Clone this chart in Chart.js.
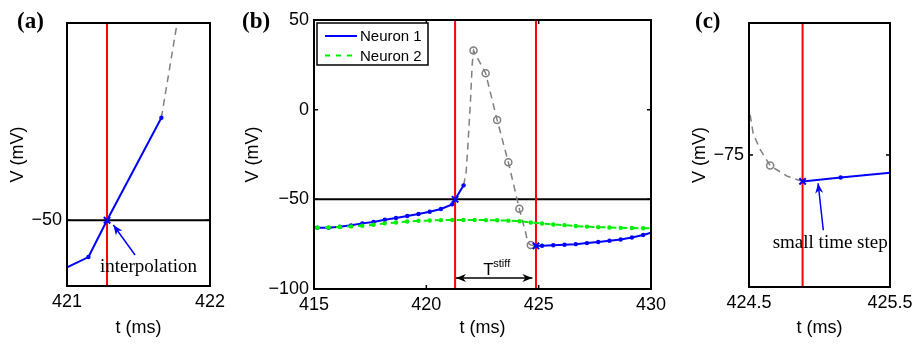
<!DOCTYPE html>
<html>
<head>
<meta charset="utf-8">
<script src="https://cdn.jsdelivr.net/npm/chart.js@4.4.1/dist/chart.umd.min.js"></script>
<style>
  body { margin: 0; background: #fff; }
  #wrap { position: relative; width: 921px; height: 345px; overflow: hidden; }
  #wrap canvas { position: absolute; top: 0; }
</style>
</head>
<body>
<div id="wrap">
  <canvas id="chartA" width="235" height="345" style="left:0px"></canvas>
  <canvas id="chartB" width="450" height="345" style="left:230px"></canvas>
  <canvas id="chartC" width="241" height="345" style="left:680px"></canvas>
</div>
<script>
// membrane potential V (mV) vs time t (ms)
const neuron1PreT = [415.0, 415.15, 415.65, 416.15, 416.65, 417.15, 417.65, 418.15, 418.65, 419.15, 419.65, 420.15, 420.65, 421.15, 421.28, 421.66];
const neuron1PreV = [-65.7, -65.8, -65.9, -65.3, -64.5, -63.4, -62.6, -61.4, -60.4, -59.3, -58.2, -56.9, -55.4, -52.8, -50.0, -42.2];
const neuron1PostT = [424.88, 425.15, 425.65, 426.15, 426.65, 427.15, 427.65, 428.15, 428.65, 429.15, 429.65, 430.0];
const neuron1PostV = [-76.0, -75.85, -75.6, -75.3, -75.0, -74.4, -73.8, -73.1, -72.4, -71.3, -69.9, -68.6];

const neuron2T = [415.0, 415.15, 415.65, 416.15, 416.65, 417.15, 417.65, 418.15, 418.65, 419.15, 419.65, 420.15, 420.65, 421.15, 421.65, 422.15,
                  422.65, 423.15, 423.65, 424.15, 424.65, 425.15, 425.65, 426.15, 426.65, 427.15, 427.65, 428.15, 428.65, 429.15, 429.65, 430.0];
const neuron2V = [-65.7, -65.8, -65.7, -65.4, -65.1, -64.7, -64.2, -63.4, -62.9, -62.4, -62.0, -61.8, -61.6, -61.5, -61.5, -61.5,
                  -61.6, -61.7, -61.9, -62.2, -62.9, -63.5, -64.0, -64.4, -64.9, -65.2, -65.5, -65.7, -65.9, -66.0, -66.1, -66.1];

// stiff (spiking) trajectory, dashed grey, and its sample points (circles)
const stiffT = [421.66, 421.77, 421.84, 421.97, 422.04, 422.1, 422.64, 423.15, 423.65, 424.14, 424.3, 424.42, 424.5, 424.53, 424.58, 424.65, 424.77, 424.88];
const stiffV = [-42.2, -35.0, -22.0, 6.0, 25.0, 33.0, 20.3, -5.7, -29.3, -55.3, -63.0, -68.5, -73.2, -74.2, -74.8, -75.4, -75.8, -76.0];
const stiffSampleT = [422.1, 422.64, 423.15, 423.65, 424.14, 424.65];
const stiffSampleV = [33.0, 20.3, -5.7, -29.3, -55.3, -75.4];

// threshold crossing / end of stiff period
const crossT = [421.28, 424.88];
const crossV = [-50.0, -76.0];
const redLineT = [421.28, 424.88];
const threshold = -50;

// axis ranges and ticks per panel
const aRangeT = [421, 422], aRangeV = [-55, -35];
const bRangeT = [415, 430], bRangeV = [-100, 50];
const cRangeT = [424.5, 425.5], cRangeV = [-80, -70];
const aTicksT = [421, 422], aTicksV = [-50];
const bTicksT = [415, 420, 425, 430], bTicksV = [-100, -50, 0, 50];
const cTicksT = [424.5, 425.5], cTicksV = [-75];

Chart.defaults.font.family = "'Liberation Sans', Arial, sans-serif";
Chart.defaults.color = '#000';
Chart.defaults.animation = false;

const BLUE = '#0000ff', GREEN = '#00ee00', GRAY = '#808080', RED = '#ff0000';
const SERIF = "'Liberation Serif', 'Times New Roman', serif";

const pts = (t, v) => t.map((x, i) => ({ x, y: v[i] }));
const fmtTick = v => String(v).replace('-', '\u2212');

function dotRadius(r) {
  return c => {
    const x = c.raw ? c.raw.x : null;
    return (x <= bRangeT[0] || x >= bRangeT[1] || crossT.includes(x)) ? 0 : r;
  };
}

function buildDatasets() {
  // first dataset is drawn on top
  return [
    { label: 'crossings', data: pts(crossT, crossV), showLine: false, pointStyle: 'crossRot',
      pointRadius: 4.5, borderColor: BLUE, pointBorderColor: BLUE, pointBorderWidth: 2 },
    { label: 'Neuron 2', data: pts(neuron2T, neuron2V), borderColor: GREEN, borderWidth: 2, borderDash: [6, 5],
      pointRadius: dotRadius(2.2), pointBackgroundColor: GREEN, pointBorderWidth: 0 },
    { label: 'Neuron 1', data: pts(neuron1PreT, neuron1PreV), borderColor: BLUE, borderWidth: 2,
      pointRadius: dotRadius(2.2), pointBackgroundColor: BLUE, pointBorderWidth: 0 },
    { label: 'Neuron 1 after', data: pts(neuron1PostT, neuron1PostV), borderColor: BLUE, borderWidth: 2,
      pointRadius: dotRadius(2.2), pointBackgroundColor: BLUE, pointBorderWidth: 0 },
    { label: 'stiff samples', data: pts(stiffSampleT, stiffSampleV), showLine: false, pointStyle: 'circle',
      pointRadius: 3.5, borderColor: GRAY, pointBorderColor: GRAY, pointBackgroundColor: 'rgba(0,0,0,0)', pointBorderWidth: 1.5 },
    { label: 'stiff', data: pts(stiffT, stiffV), borderColor: GRAY, borderWidth: 1.5, borderDash: [7, 5], pointRadius: 0 }
  ];
}

function drawArrow(ctx, x0, y0, x1, y1, color, both) {
  const L = 10, W = 4;
  ctx.strokeStyle = color;
  ctx.fillStyle = color;
  ctx.lineWidth = 1.5;
  ctx.beginPath(); ctx.moveTo(x0, y0); ctx.lineTo(x1, y1); ctx.stroke();
  const head = (x, y, a) => {
    const c = Math.cos(a), s = Math.sin(a);
    ctx.beginPath();
    ctx.moveTo(x, y);
    ctx.lineTo(x - L * c + W * s, y - L * s - W * c);
    ctx.lineTo(x - L * 0.7 * c, y - L * 0.7 * s);
    ctx.lineTo(x - L * c - W * s, y - L * s + W * c);
    ctx.closePath();
    ctx.fill();
  };
  const ang = Math.atan2(y1 - y0, x1 - x0);
  head(x1, y1, ang);
  if (both) head(x0, y0, ang + Math.PI);
}

const panelDecor = {
  id: 'panelDecor',
  beforeDatasetsDraw(chart) {
    const { ctx, chartArea: a, scales: { x, y } } = chart;
    ctx.save();
    ctx.beginPath(); ctx.rect(a.left, a.top, a.width, a.height); ctx.clip();
    ctx.lineWidth = 2;
    ctx.strokeStyle = '#000';
    const yt = y.getPixelForValue(threshold);
    ctx.beginPath(); ctx.moveTo(a.left, yt); ctx.lineTo(a.right, yt); ctx.stroke();
    ctx.strokeStyle = RED;
    redLineT.forEach(t => {
      const px = x.getPixelForValue(t);
      ctx.beginPath(); ctx.moveTo(px, a.top); ctx.lineTo(px, a.bottom); ctx.stroke();
    });
    ctx.restore();
  },
  afterDatasetsDraw(chart, args, o) {
    const { ctx, chartArea: a, scales: { x, y } } = chart;
    ctx.save();
    // box and inward ticks
    ctx.strokeStyle = '#000';
    ctx.lineWidth = 2;
    ctx.strokeRect(a.left, a.top, a.width, a.height);
    ctx.lineWidth = 1.5;
    o.ticksT.forEach(t => {
      const px = x.getPixelForValue(t);
      ctx.beginPath();
      ctx.moveTo(px, a.bottom); ctx.lineTo(px, a.bottom - 4);
      ctx.moveTo(px, a.top); ctx.lineTo(px, a.top + 4);
      ctx.stroke();
    });
    o.ticksV.forEach(v => {
      const py = y.getPixelForValue(v);
      ctx.beginPath();
      ctx.moveTo(a.left, py); ctx.lineTo(a.left + 4, py);
      ctx.moveTo(a.right, py); ctx.lineTo(a.right - 4, py);
      ctx.stroke();
    });

    if (o.legend) {
      const lx = a.left + 3, ly = a.top + 3;
      ctx.fillStyle = '#fff';
      ctx.fillRect(lx, ly, 111, 42);
      ctx.lineWidth = 1.5;
      ctx.strokeStyle = '#000';
      ctx.strokeRect(lx, ly, 111, 42);
      ctx.font = "15px 'Liberation Sans', Arial, sans-serif";
      ctx.textBaseline = 'middle';
      ctx.textAlign = 'left';
      [['Neuron 1', BLUE, []], ['Neuron 2', GREEN, [5, 6]]].forEach(([txt, col, dash], i) => {
        const ry = ly + 13 + i * 19.5;
        ctx.strokeStyle = col;
        ctx.lineWidth = 2;
        ctx.setLineDash(dash);
        ctx.beginPath(); ctx.moveTo(lx + 8, ry); ctx.lineTo(lx + 40, ry); ctx.stroke();
        ctx.setLineDash([]);
        ctx.fillStyle = '#000';
        ctx.fillText(txt, lx + 43, ry + 1);
      });
    }

    (o.arrows || []).forEach(ar => {
      drawArrow(ctx, x.getPixelForValue(ar.from[0]), y.getPixelForValue(ar.from[1]),
        x.getPixelForValue(ar.to[0]), y.getPixelForValue(ar.to[1]), ar.color, ar.both);
    });
    (o.notes || []).forEach(n => {
      ctx.font = n.font;
      ctx.fillStyle = '#000';
      ctx.textAlign = 'left';
      ctx.textBaseline = 'alphabetic';
      ctx.fillText(n.text, x.getPixelForValue(n.at[0]), y.getPixelForValue(n.at[1]));
    });
    ctx.restore();
  },
  afterDraw(chart, args, o) {
    const { ctx } = chart;
    ctx.save();
    ctx.font = 'bold 23px ' + SERIF;
    ctx.fillStyle = '#000';
    ctx.textAlign = 'left';
    ctx.textBaseline = 'alphabetic';
    ctx.fillText(o.label, o.labelX, o.labelY);
    ctx.restore();
  }
};

function axes(rangeT, rangeV, ticksT, ticksV, yWidth, xHeight, yTitlePad) {
  const tickFont = { size: 18 };
  return {
    x: {
      type: 'linear', min: rangeT[0], max: rangeT[1],
      afterBuildTicks: s => { s.ticks = ticksT.map(value => ({ value })); },
      afterFit: s => { s.height = xHeight; },
      grid: { display: false, drawTicks: false }, border: { display: false },
      ticks: { padding: 5, font: tickFont, color: '#000', callback: fmtTick, autoSkip: false, maxRotation: 0 },
      title: { display: true, text: 't (ms)', font: tickFont, color: '#000', padding: { top: 0, bottom: 6 } }
    },
    y: {
      type: 'linear', min: rangeV[0], max: rangeV[1],
      afterBuildTicks: s => { s.ticks = ticksV.map(value => ({ value })); },
      afterFit: s => { s.width = yWidth; },
      grid: { display: false, drawTicks: false }, border: { display: false },
      ticks: { padding: 5, font: tickFont, color: '#000', callback: fmtTick, autoSkip: false },
      title: { display: true, text: 'V (mV)', font: tickFont, color: '#000', padding: { top: yTitlePad, bottom: 0 } }
    }
  };
}

function makePanel(id, scales, padding, decor) {
  return new Chart(document.getElementById(id), {
    type: 'line',
    data: { datasets: buildDatasets() },
    options: {
      responsive: false,
      animation: false,
      events: [],
      layout: { padding },
      scales,
      plugins: { legend: { display: false }, tooltip: { enabled: false }, panelDecor: decor }
    },
    plugins: [panelDecor]
  });
}

makePanel('chartA',
  axes(aRangeT, aRangeV, aTicksT, aTicksV, 67, 59, 7),
  { left: 0, right: 25, top: 23, bottom: 0 },
  {
    label: '(a)', labelX: 17, labelY: 27.5, ticksT: aTicksT, ticksV: aTicksV,
    arrows: [{ from: [421.476, -52.64], to: [421.324, -50.36], color: BLUE }],
    notes: [{ text: 'interpolation', at: [421.23, -53.9], font: '19px ' + SERIF }]
  });

makePanel('chartB',
  axes(bRangeT, bRangeV, bTicksT, bTicksV, 84, 56, 12),
  { left: 0, right: 29, top: 20, bottom: 0 },
  {
    label: '(b)', labelX: 12, labelY: 27.5, ticksT: bTicksT, ticksV: bTicksV, legend: true,
    arrows: [{ from: [421.32, -93.9], to: [424.72, -93.9], color: '#000', both: true }],
    notes: [
      { text: 'T', at: [422.53, -92.1], font: "17px 'Liberation Sans', Arial, sans-serif" },
      { text: 'stiff', at: [422.98, -87.8], font: "11px 'Liberation Sans', Arial, sans-serif" }
    ]
  });

makePanel('chartC',
  axes(cRangeT, cRangeV, cTicksT, cTicksV, 69, 58, 9),
  { left: 0, right: 31, top: 23, bottom: 0 },
  {
    label: '(c)', labelX: 15, labelY: 27.5, ticksT: cTicksT, ticksV: cTicksV,
    arrows: [{ from: [425.027, -77.85], to: [424.99, -76.07], color: BLUE }],
    notes: [{ text: 'small time step', at: [424.668, -78.53], font: '19px ' + SERIF }]
  });
</script>
</body>
</html>
